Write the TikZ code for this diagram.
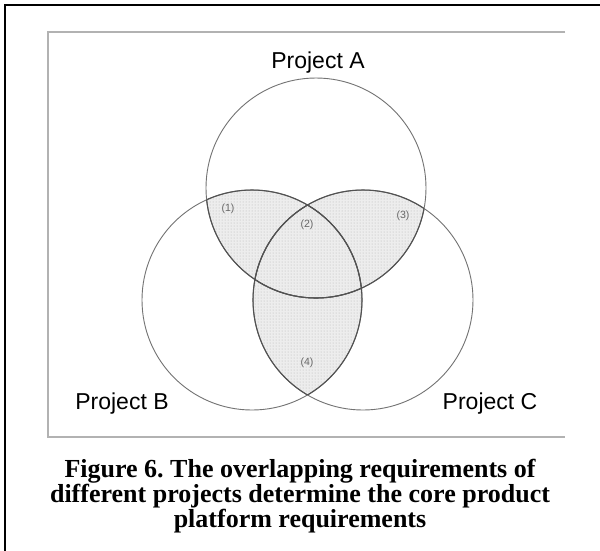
\documentclass[tikz,border=0pt]{standalone}
\usepackage{fontspec}
\setmainfont{Liberation Serif}
\newfontfamily\arialf{Liberation Sans}
\usetikzlibrary{patterns}
\begin{document}
\frenchspacing
\begin{tikzpicture}[x=1pt,y=-1pt,
  circ/.style={draw=black!55,line width=0.9pt},
  circdark/.style={draw=black!68,line width=1.1pt},
  proj/.style={font=\arialf\fontsize{23}{25}\selectfont,text=black},
  reg/.style={font=\arialf\fontsize{10.5}{11}\selectfont,text=black!60},
  shade/.style={fill=black!7},
  dotpat/.style={pattern=dots,pattern color=black!30}]
\useasboundingbox (0,0) rectangle (600,550);
\fill[white] (0,0) rectangle (600,550);
% outer frame
\draw[line width=2.2pt,black] (600,5) -- (5,5) -- (5,552);
% inner box
\draw[line width=1.8pt,black!30] (565,32) -- (48,32) -- (48,437) -- (565,437);
\def\cA{(316,188) circle[radius=110]}
\def\cB{(252,300) circle[radius=110]}
\def\cC{(363,300) circle[radius=110]}
% shaded overlaps
\begin{scope}
  \clip \cA;
  \fill[shade] \cB; \fill[shade] \cC;
  \fill[dotpat] \cB; \fill[dotpat] \cC;
\end{scope}
\begin{scope}
  \clip \cB;
  \fill[shade] \cC;
  \fill[dotpat] \cC;
\end{scope}
% circles
\draw[circ] \cA;
\draw[circ] \cB;
\draw[circ] \cC;
\begin{scope}\clip \cA; \draw[circdark] \cB; \draw[circdark] \cC;\end{scope}
\begin{scope}\clip \cB; \draw[circdark] \cA; \draw[circdark] \cC;\end{scope}
\begin{scope}\clip \cC; \draw[circdark] \cA; \draw[circdark] \cB;\end{scope}
% labels
\node[proj] (pa) at (318,63) {Project A};
\node[proj] (pb) at (122,404) {Project B};
\node[proj] (pc) at (490,404) {Project C};
\node[reg] (r1) at (228,209) {(1)};
\node[reg] (r2) at (307,225) {(2)};
\node[reg] (r3) at (403,216) {(3)};
\node[reg] (r4) at (307,363) {(4)};
% caption
\node[font=\bfseries\fontsize{26}{25}\selectfont,align=center] (cap) at (300,496)
  {Figure 6. The overlapping requirements of\\different projects determine the core product\\platform requirements};
\end{tikzpicture}
\end{document}
